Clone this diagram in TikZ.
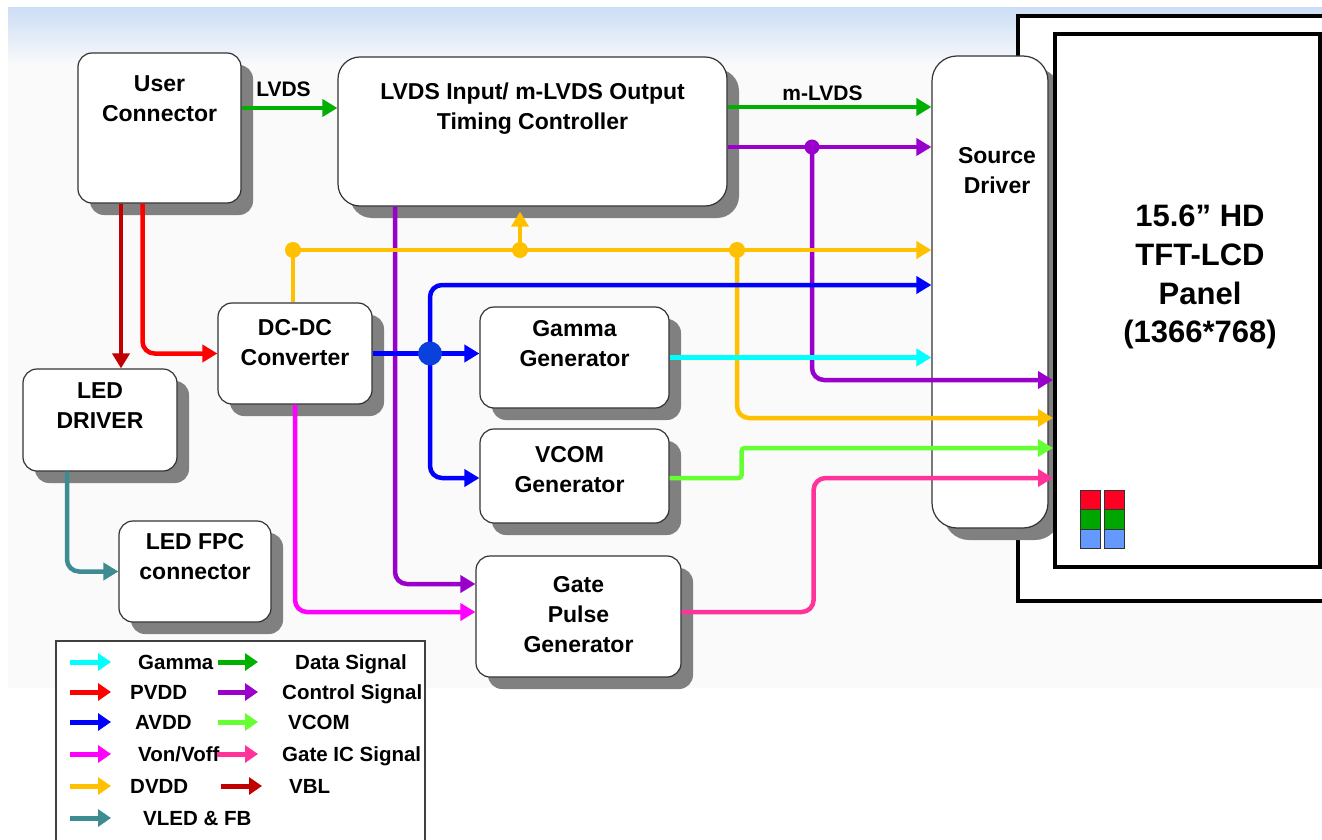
\documentclass[tikz,border=0pt]{standalone}
\usepackage{fontspec}
\setmainfont{Liberation Sans}
\usetikzlibrary{positioning,arrows.meta,shadows}

\definecolor{datc}{RGB}{0,176,0}
\definecolor{ctlc}{RGB}{153,0,204}
\definecolor{dvddc}{RGB}{255,192,0}
\definecolor{avddc}{RGB}{0,0,255}
\definecolor{avddj}{RGB}{10,64,220}
\definecolor{gamc}{RGB}{0,255,255}
\definecolor{vcomc}{RGB}{102,255,51}
\definecolor{gicc}{RGB}{255,51,153}
\definecolor{vonc}{RGB}{255,0,255}
\definecolor{pvddc}{RGB}{255,0,0}
\definecolor{vblc}{RGB}{192,0,0}
\definecolor{vledc}{RGB}{60,140,145}
\definecolor{pixr}{RGB}{255,0,34}
\definecolor{pixg}{RGB}{0,166,0}
\definecolor{pixb}{RGB}{102,153,255}
\definecolor{slide}{RGB}{250,250,250}
\definecolor{sky}{RGB}{205,222,246}

\begin{document}
\begin{tikzpicture}[x=1pt, y=-1pt,
	blk/.style={rectangle, rounded corners=14pt, draw=black!80, line width=1.2pt, fill=white,
		drop shadow={shadow xshift=12pt, shadow yshift=-12pt, fill=black!50, opacity=1}},
	txt/.style={align=center, inner sep=0pt, font=\fontsize{23}{30}\selectfont\bfseries},
	ptxt/.style={align=center, inner sep=0pt, font=\fontsize{31}{38.7}\selectfont\bfseries},
	lbl/.style={inner sep=0pt, text=black, font=\fontsize{21}{25}\selectfont\bfseries},
	sig/.style={line width=4.5pt, -{Triangle[length=15pt, width=17pt]}},
	lg/.style={anchor=west, inner sep=0pt, text height=15pt, text depth=0pt, font=\fontsize{20.5}{25}\selectfont\bfseries},
	lgarr/.style={line width=5pt, -{Triangle[length=13pt, width=17pt]}},
	pix/.style={draw=black!80, line width=1pt}]

	%Background
	\useasboundingbox (0,0) rectangle (1322,840);
	\fill[white] (0,0) rectangle (1322,840);
	\fill[slide] (8,8) rectangle (1322,688);
	\shade[top color=sky, bottom color=slide] (8,8) rectangle (1322,66);

	%Panel frame
	\draw[line width=3.5pt, fill=white] (1018,16) rectangle (1345,601);

	%Nodes
	\node[blk, minimum width=163pt, minimum height=150pt] (uc) at (159.5,128) {};
	\node[blk, rounded corners=22pt, minimum width=389pt, minimum height=149pt] (tc) at (532.5,131.5) {};
	\node[blk, rounded corners=25pt, minimum width=116pt, minimum height=472pt] (sd) at (990,292) {};
	\node[blk, minimum width=154pt, minimum height=102pt] (led) at (100,420) {};
	\node[blk, minimum width=154pt, minimum height=101pt] (dc) at (295,353.5) {};
	\node[blk, minimum width=152pt, minimum height=101pt] (fpc) at (195,571.5) {};
	\node[blk, minimum width=189pt, minimum height=101pt] (gam) at (574.5,357.5) {};
	\node[blk, minimum width=189pt, minimum height=94pt] (vcom) at (574.5,476) {};
	\node[blk, minimum width=205pt, minimum height=121pt] (gate) at (578.5,616.5) {};
	\node[draw, line width=4pt, fill=white, minimum width=265pt, minimum height=533pt] (pnl) at (1187.5,300.5) {};

	%Texts
	\node[txt, below=23pt of uc.north] (uc-t) {User\\Connector};
	\node[txt, below=26pt of tc.north] (tc-t) {LVDS Input/ m-LVDS Output\\Timing Controller};
	\node[txt, below=92pt of sd.north, xshift=7pt] (sd-t) {Source\\Driver};
	\node[txt, below=14pt of led.north] (led-t) {LED\\DRIVER};
	\node[txt, below=17pt of dc.north] (dc-t) {DC-DC\\Converter};
	\node[txt, below=13pt of fpc.north] (fpc-t) {LED FPC\\connector};
	\node[txt, below=14pt of gam.north] (gam-t) {Gamma\\Generator};
	\node[txt, below=18pt of vcom.north, xshift=-5pt] (vcom-t) {VCOM\\Generator};
	\node[txt, below=21pt of gate.north] (gate-t) {Gate\\Pulse\\Generator};
	\node[ptxt, below=173pt of pnl.north, xshift=12.5pt] (pnl-t) {15.6” HD\\TFT-LCD\\Panel\\(1366*768)};

	%Pixels
	\draw[pix, fill=pixr] (1080,490) rectangle (1100,509.5);
	\draw[pix, fill=pixg] (1080,509.5) rectangle (1100,529);
	\draw[pix, fill=pixb] (1080,529) rectangle (1100,548);
	\draw[pix, fill=pixr] (1104,490) rectangle (1124,509.5);
	\draw[pix, fill=pixg] (1104,509.5) rectangle (1124,529);
	\draw[pix, fill=pixb] (1104,529) rectangle (1124,548);

	%Junctions
	\coordinate (jc) at (812,147);
	\coordinate (jd1) at (293,250);
	\coordinate (jd2) at (520,250);
	\coordinate (jd3) at (737,250);
	\coordinate (ja) at (430,353.5);

	%Lines
	\draw[sig, datc] ([yshift=20pt]uc.east) -- node[lbl, above=9pt, xshift=-6pt] (lvds) {LVDS} ([yshift=20pt]uc.east -| tc.west);
	\draw[sig, datc] ([yshift=24.5pt]tc.east) -- node[lbl, above=4pt, xshift=-7pt] (mlvds) {m-LVDS} ([yshift=24.5pt]tc.east -| sd.west);
	\draw[sig, ctlc] ([yshift=-15.5pt]tc.east) -- ([yshift=-15.5pt]tc.east -| sd.west);
	\draw[sig, ctlc, rounded corners=12pt] (jc) |- ([yshift=-79.5pt]pnl.west);
	\draw[sig, ctlc, rounded corners=12pt] ([xshift=-137.5pt]tc.south) |- ([yshift=32.5pt]gate.west);
	\draw[sig, dvddc] (jd1 |- dc.north) -- (jd1) -- (jd1 -| sd.west);
	\draw[sig, dvddc, shorten >=5pt] (jd2) -- (jd2 |- tc.south);
	\draw[sig, dvddc, rounded corners=12pt] (jd3) |- ([yshift=-117.5pt]pnl.west);
	\draw[sig, avddc] (dc.east) -- (dc.east -| gam.west);
	\draw[sig, avddc, rounded corners=12pt] (ja) |- ([yshift=7pt]sd.west);
	\draw[sig, avddc, rounded corners=12pt] (ja) |- ([yshift=-2pt]vcom.west);
	\draw[sig, gamc] (gam.east) -- (gam.east -| sd.west);
	\draw[sig, vcomc, rounded corners=3pt] ([yshift=-2pt]vcom.east) -- ++(72,0) |- ([yshift=-147.5pt]pnl.west);
	\draw[sig, gicc, rounded corners=12pt] ([yshift=4.5pt]gate.east) -- ++(132,0) |- ([yshift=-177.5pt]pnl.west);
	\draw[sig, vonc, rounded corners=12pt] (dc.south) |- ([yshift=4.5pt]gate.west);
	\draw[sig, pvddc, rounded corners=12pt] ([xshift=-17pt]uc.south) |- (dc.west);
	\draw[sig, vblc] ([xshift=-38.5pt]uc.south) -- ([xshift=-38.5pt]uc.south |- led.north);
	\draw[sig, vledc, rounded corners=12pt] ([xshift=-33pt]led.south) |- (fpc.west);

	%Dots
	\fill[dvddc] (jd1) circle (8pt) (jd2) circle (8pt) (jd3) circle (8pt);
	\fill[ctlc] (jc) circle (7.5pt);
	\fill[avddj] (ja) circle (12pt);

	%Legend
	\draw[line width=1.2pt, draw=black!75, fill=white] (56,641) rectangle (425,870);
	\node[lg] (lg-gam) at (138,662) {Gamma};
	\node[lg] (lg-pvdd) at (130,692) {PVDD};
	\node[lg] (lg-avdd) at (135,722) {AVDD};
	\node[lg] (lg-von) at (138,754) {Von/Voff};
	\node[lg] (lg-dvdd) at (130,786) {DVDD};
	\node[lg] (lg-vled) at (143,818) {VLED \& FB};
	\node[lg] (lg-dat) at (295,662) {Data Signal};
	\node[lg] (lg-ctl) at (282,692) {Control Signal};
	\node[lg] (lg-vcom) at (288,722) {VCOM};
	\node[lg] (lg-gic) at (282,754) {Gate IC Signal};
	\node[lg] (lg-vbl) at (289,786) {VBL};
	\draw[lgarr, gamc] ([xshift=-68pt]lg-gam.west) -- ++(41,0);
	\draw[lgarr, pvddc] ([xshift=-60pt]lg-pvdd.west) -- ++(41,0);
	\draw[lgarr, avddc] ([xshift=-65pt]lg-avdd.west) -- ++(41,0);
	\draw[lgarr, vonc] ([xshift=-68pt]lg-von.west) -- ++(41,0);
	\draw[lgarr, dvddc] ([xshift=-60pt]lg-dvdd.west) -- ++(41,0);
	\draw[lgarr, vledc] ([xshift=-73pt]lg-vled.west) -- ++(41,0);
	\draw[lgarr, datc] ([xshift=-77pt]lg-dat.west) -- ++(40,0);
	\draw[lgarr, ctlc] ([xshift=-64pt]lg-ctl.west) -- ++(40,0);
	\draw[lgarr, vcomc] ([xshift=-70pt]lg-vcom.west) -- ++(40,0);
	\draw[lgarr, gicc] ([xshift=-65pt]lg-gic.west) -- ++(41,0);
	\draw[lgarr, vblc] ([xshift=-68pt]lg-vbl.west) -- ++(41,0);
\end{tikzpicture}
\end{document}
